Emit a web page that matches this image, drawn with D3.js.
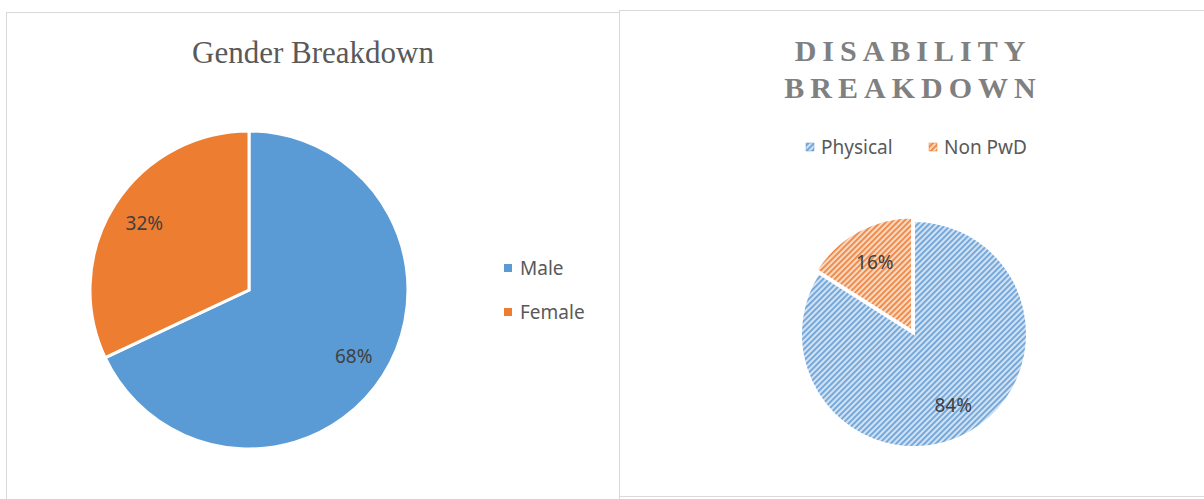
<!DOCTYPE html>
<html>
<head>
<meta charset="utf-8">
<script src="https://cdn.jsdelivr.net/npm/d3@7"></script>
<style>
  html, body { margin: 0; padding: 0; background: #fff; }
  svg { display: block; }
</style>
</head>
<body>
<div id="chart"></div>
<script>
const genderLabels = ['Male', 'Female'];
const genderValues = [68, 32];
const genderColors = ['#5b9bd5', '#ed7d31'];

const disabilityLabels = ['Physical', 'Non PwD'];
const disabilityValues = [84, 16];
const disabilityColors = ['#5b9bd5', '#ed7d31'];

const width = 1204;
const height = 499;

const svg = d3
  .select('#chart')
  .append('svg')
  .attr('width', width)
  .attr('height', height);

// striped fills for the second pie
const defs = svg.append('defs');
const stripes = [
  { id: 'stripe-blue', bg: '#d3e2f3', fg: '#6aa3d9' },
  { id: 'stripe-orange', bg: '#fad9c2', fg: '#ee8540' }
];
stripes.forEach((s) => {
  const p = defs
    .append('pattern')
    .attr('id', s.id)
    .attr('patternUnits', 'userSpaceOnUse')
    .attr('width', 4)
    .attr('height', 4)
    .attr('patternTransform', 'rotate(45)');
  p.append('rect').attr('width', 4).attr('height', 4).attr('fill', s.bg);
  p.append('rect').attr('width', 1.8).attr('height', 4).attr('fill', s.fg);
});

// chart frames
svg
  .append('rect')
  .attr('x', 6.5)
  .attr('y', 12.5)
  .attr('width', 613)
  .attr('height', 520)
  .attr('fill', 'none')
  .attr('stroke', '#d9d9d9');

svg
  .append('rect')
  .attr('x', 619.5)
  .attr('y', 10.5)
  .attr('width', 620)
  .attr('height', 486)
  .attr('fill', '#fff')
  .attr('stroke', '#d9d9d9');

const pie = d3.pie().sort(null).value((d) => d);
const labelFont = '"Noto Sans", "Open Sans", sans-serif';
const labelSize = '19px';

// ---- Gender pie ----
const g1 = { cx: 249, cy: 290, r: 159 };
const arc1 = d3.arc().innerRadius(0).outerRadius(g1.r);
const lab1 = d3.arc().innerRadius(g1.r * 0.78).outerRadius(g1.r * 0.78);
const gender = svg.append('g').attr('transform', `translate(${g1.cx},${g1.cy})`);
const genderArcs = pie(genderValues);

gender
  .selectAll('path')
  .data(genderArcs)
  .enter()
  .append('path')
  .attr('d', arc1)
  .attr('fill', (d, i) => genderColors[i])
  .attr('stroke', '#fff')
  .attr('stroke-width', 3);

gender
  .selectAll('text')
  .data(genderArcs)
  .enter()
  .append('text')
  .attr('transform', (d) => `translate(${lab1.centroid(d)})`)
  .attr('text-anchor', 'middle')
  .attr('dy', '0.35em')
  .style('font-family', labelFont)
  .style('font-size', labelSize)
  .attr('fill', '#404040')
  .text((d) => `${d.value}%`);

svg
  .append('text')
  .attr('x', 313)
  .attr('y', 63)
  .attr('text-anchor', 'middle')
  .style('font-family', '"Liberation Serif", serif')
  .style('font-size', '31px')
  .attr('fill', '#595959')
  .text('Gender Breakdown');

genderLabels.forEach((name, i) => {
  const y = 268 + i * 44;
  svg
    .append('rect')
    .attr('x', 504)
    .attr('y', y - 4)
    .attr('width', 8)
    .attr('height', 8)
    .attr('fill', genderColors[i]);
  svg
    .append('text')
    .attr('x', 520)
    .attr('y', y)
    .attr('dy', '0.35em')
    .style('font-family', labelFont)
    .style('font-size', labelSize)
    .attr('fill', '#595959')
    .text(name);
});

// ---- Disability pie ----
const g2 = { cx: 914, cy: 334, r: 113 };
const arc2 = d3.arc().innerRadius(0).outerRadius(g2.r);
const lab2 = d3.arc().innerRadius(g2.r * 0.72).outerRadius(g2.r * 0.72);
const disability = svg.append('g').attr('transform', `translate(${g2.cx},${g2.cy})`);
const disabilityArcs = pie(disabilityValues);
const explode = [0, 4];

const offset = (d, i) => {
  const a = (d.startAngle + d.endAngle) / 2;
  return [Math.sin(a) * explode[i], -Math.cos(a) * explode[i]];
};

disability
  .selectAll('path')
  .data(disabilityArcs)
  .enter()
  .append('path')
  .attr('transform', (d, i) => `translate(${offset(d, i)})`)
  .attr('d', arc2)
  .attr('fill', (d, i) => `url(#${stripes[i].id})`)
  .attr('stroke', '#fff')
  .attr('stroke-width', 2);

disability
  .selectAll('text')
  .data(disabilityArcs)
  .enter()
  .append('text')
  .attr('transform', (d) => `translate(${lab2.centroid(d)})`)
  .attr('text-anchor', 'middle')
  .attr('dy', '0.35em')
  .style('font-family', labelFont)
  .style('font-size', labelSize)
  .attr('fill', '#404040')
  .text((d) => `${d.value}%`);

['DISABILITY', 'BREAKDOWN'].forEach((line, i) => {
  svg
    .append('text')
    .attr('x', 913)
    .attr('y', 61 + i * 37)
    .attr('text-anchor', 'middle')
    .style('font-family', '"Liberation Serif", serif')
    .style('font-size', '30px')
    .style('font-weight', 'bold')
    .style('letter-spacing', '6px')
    .attr('fill', '#808080')
    .text(line);
});

const legendX = [806, 929];
disabilityLabels.forEach((name, i) => {
  const y = 147;
  svg
    .append('rect')
    .attr('x', legendX[i])
    .attr('y', y - 4)
    .attr('width', 8)
    .attr('height', 8)
    .attr('fill', `url(#${stripes[i].id})`)
    .attr('stroke', disabilityColors[i])
    .attr('stroke-width', 0.5);
  svg
    .append('text')
    .attr('x', legendX[i] + 15)
    .attr('y', y)
    .attr('dy', '0.35em')
    .style('font-family', labelFont)
    .style('font-size', labelSize)
    .attr('fill', '#595959')
    .text(name);
});
</script>
</body>
</html>
